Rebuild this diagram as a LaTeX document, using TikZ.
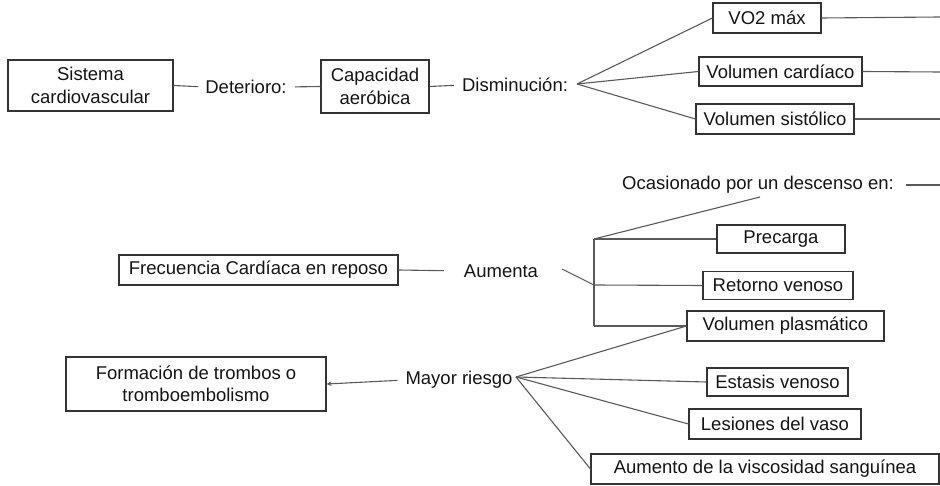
\documentclass[tikz,border=0pt]{standalone}
\usepackage{fontspec}
\setmainfont{Liberation Sans}
\usetikzlibrary{arrows.meta}
\begin{document}
\begin{tikzpicture}[x=1pt,y=-1pt,
  every node/.style={font=\fontsize{18.5}{22.5}\selectfont, text=black!92},
  box/.style={draw=black!80, line width=1.1pt, inner sep=0pt, align=center},
  lbl/.style={inner sep=0pt},
  conn/.style={draw=black!65, line width=1.1pt},
  arr/.style={conn, -{Stealth[length=5pt,width=4.5pt]}}
]
\useasboundingbox (0,0) rectangle (940,486);

% ---- upper block: capacidad aeróbica
\node[box, minimum width=165pt, minimum height=51pt] (sis) at (90.5,85.5) {Sistema\\cardiovascular};
\node[lbl] (det) at (246,87) {Deterioro:};
\node[box, minimum width=108pt, minimum height=53pt] (cap) at (375,86.5) {Capacidad\\aeróbica};
\node[lbl] (dis) at (515,85) {Disminución:};
\coordinate (f1) at (577,84);

\node[box, minimum width=108pt, minimum height=30pt] (vo2) at (767,18) {VO2 máx};
\node[box, minimum width=163pt, minimum height=29pt] (vc) at (780.5,71.5) {Volumen cardíaco};
\node[box, minimum width=158pt, minimum height=30pt] (vs) at (775,119) {Volumen sistólico};
\coordinate (r1) at (940,17);
\coordinate (r2) at (940,72);
\coordinate (r3) at (940,119);

\draw[conn, shorten >=7pt] (sis.east) -- (det.west);
\draw[conn, shorten <=8pt] (det.east) -- (cap.west);
\draw[conn, shorten >=8pt] (cap.east) -- (dis.west);
\draw[conn] (f1) -- (vo2.west);
\draw[conn] (f1) -- (vc.west);
\draw[conn] (f1) -- (vs.west);
\draw[conn] (vo2.east) -- (r1);
\draw[conn] (vc.east) -- (r2);
\draw[conn] (vs.east) -- (r3);

% ---- middle block: frecuencia cardíaca
\node[lbl] (oca) at (758,185) {Ocasionado por un descenso en:};
\coordinate (r4) at (940,185);
\coordinate (oe) at (760,197);
\node[box, minimum width=279pt, minimum height=30pt] (fre) at (258.5,270) {Frecuencia Cardíaca en reposo};
\node[lbl] (aum) at (501,271) {Aumenta};
\node[box, minimum width=128pt, minimum height=28pt] (pre) at (781,239) {Precarga};
\node[box, minimum width=150pt, minimum height=28pt] (ret) at (778,285.5) {Retorno venoso};
\node[box, minimum width=197pt, minimum height=30pt] (vp) at (785.5,326) {Volumen plasmático};
\coordinate (bt) at (594,239);
\coordinate (bm) at (594,285);
\coordinate (bb) at (594,326);
\coordinate (as) at (562,269);

\draw[conn, shorten <=12pt] (oca.east) -- (r4);
\draw[conn, shorten >=20pt] (fre.east) -- (aum.west);
\draw[conn] (as) -- (bm);
\draw[conn] (bt) -- (bb);
\draw[conn] (bt) -- (oe);
\draw[conn] (bt) -- (pre.west);
\draw[conn] (bm) -- (ret.west);
\draw[conn] (bb) -- (vp.west);

% ---- lower block: riesgo trombótico
\node[box, minimum width=260pt, minimum height=54pt] (for) at (196,384) {Formación de trombos o\\tromboembolismo};
\node[lbl] (may) at (459,380) {Mayor riesgo};
\coordinate (f2) at (516,377);
\node[box, minimum width=141pt, minimum height=28pt] (est) at (777.5,382) {Estasis venoso};
\node[box, minimum width=172pt, minimum height=30pt] (les) at (775,424) {Lesiones del vaso};
\node[box, minimum width=348pt, minimum height=30pt] (avs) at (765,469) {Aumento de la viscosidad sanguínea};

\draw[arr, shorten <=8pt] (may.west) -- (for.east);
\draw[conn] (f2) -- (vp.west);
\draw[conn] (f2) -- (est.west);
\draw[conn] (f2) -- (les.west);
\draw[conn] (f2) -- (avs.west);
\end{tikzpicture}
\end{document}
